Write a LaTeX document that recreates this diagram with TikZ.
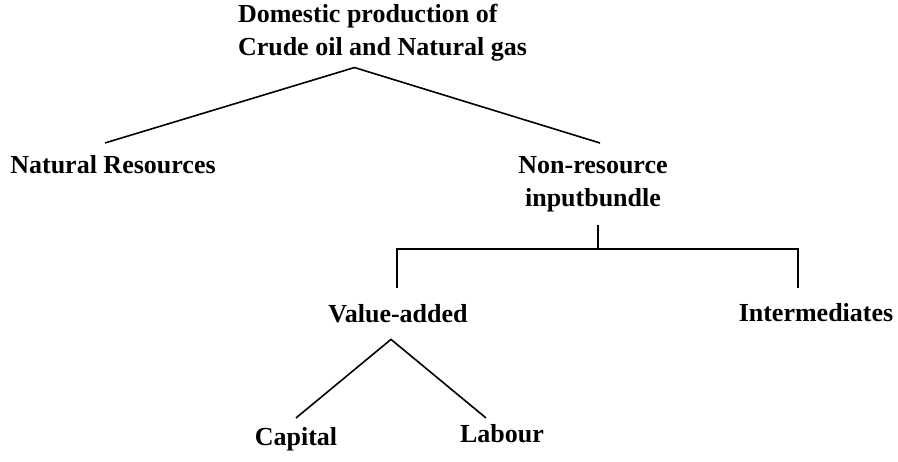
\documentclass[tikz,border=0pt]{standalone}
\usepackage{fontspec}
\setmainfont{Liberation Serif}

\begin{document}
\begin{tikzpicture}[
  x=0.5pt, y=-0.5pt,
  term/.style={font=\bfseries\fontsize{13}{16.75}\selectfont, inner sep=0pt, outer sep=0pt, align=center},
  link/.style={line width=0.8pt}
]
\useasboundingbox (0,0) rectangle (898,461);

% Row 1: output
\node[term, align=left, anchor=north west] (Dom) at (238,4) {Domestic production of\\Crude oil and Natural gas};

% Row 2: resources and non-resource bundle
\node[term, anchor=base] (NatRes) at (113,173) {Natural Resources};
\node[term, anchor=north] (NonRes) at (593,156) {Non-resource\\inputbundle};

% Row 3: value-added and intermediates
\node[term, anchor=base] (ValAdd) at (398,322) {Value-added};
\node[term, anchor=base] (Inter) at (816,321) {Intermediates};

% Row 4: factors
\node[term, anchor=base] (Capital) at (296,445) {Capital};
\node[term, anchor=base] (Labour) at (502,442) {Labour};

% Top split
\draw[link] ([shift={(-8,-12)}]NatRes.north) -- ([shift={(-28,6)}]Dom.south) -- ([shift={(7,-13)}]NonRes.north);

% Bracket under the input bundle
\draw[link] ([shift={(5,13)}]NonRes.south) -- ++(0,24) coordinate (fork);
\draw[link] ([shift={(-1,-16)}]ValAdd.north) |- (fork) -| ([shift={(-18,-15)}]Inter.north);

% Value-added split
\draw[link] ([shift={(0,-9)}]Capital.north) -- ([shift={(-7,17)}]ValAdd.south) -- ([shift={(-16,-6)}]Labour.north);

\end{tikzpicture}
\end{document}
